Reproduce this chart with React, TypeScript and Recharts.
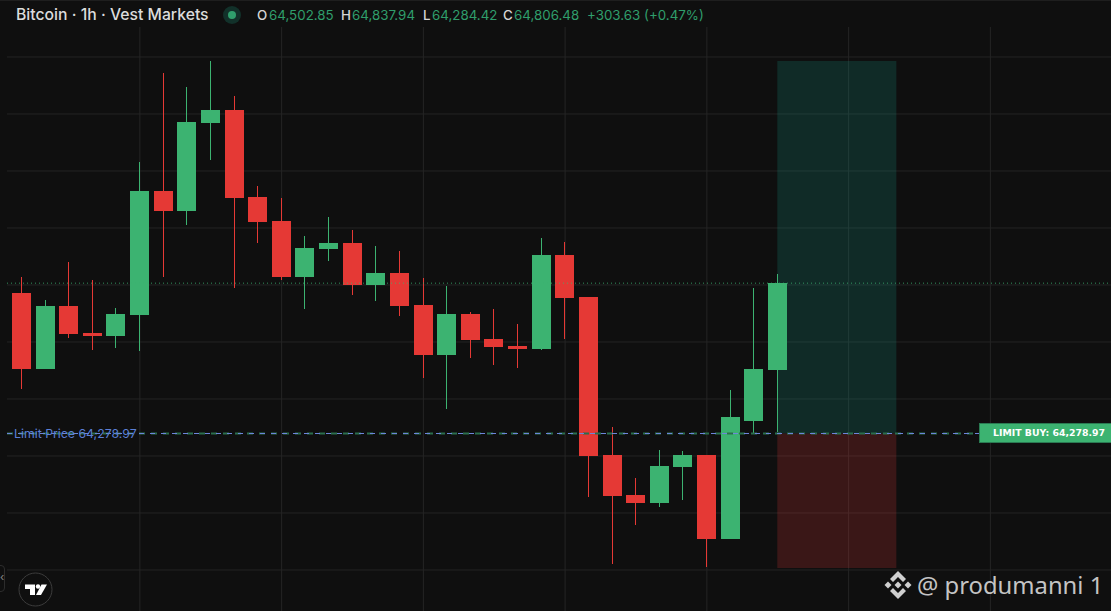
import React from 'react';
import {
	ComposedChart,
	Bar,
	XAxis,
	YAxis,
	CartesianGrid,
	ReferenceArea,
	ReferenceLine,
} from 'recharts';

/* ─── Data ────────────────────────────────────────────── */

const opens = [64772, 64505, 64726, 64632, 64621, 64695, 65130, 65060, 65368, 65414, 65109, 65025, 64828, 64926, 64947, 64800, 64842, 64730, 64554, 64698, 64611, 64586, 64575, 64905, 64758, 64203, 64063, 64035, 64161, 64203, 63909, 64323, 64502.85];
const highs = [64828, 64747, 64881, 64818, 64719, 65232, 65544, 65495, 65586, 65463, 65147, 65105, 64972, 65039, 64993, 64937, 64919, 64825, 64796, 64705, 64716, 64663, 64965, 64951, 64758, 64302, 64123, 64221, 64218, 64203, 64432, 64789, 64837.94];
const lows = [64435, 64505, 64614, 64572, 64579, 64568, 64828, 65011, 65239, 64789, 64947, 64818, 64716, 64884, 64765, 64744, 64691, 64474, 64365, 64544, 64519, 64509, 64572, 64611, 64056, 63821, 63958, 64021, 64046, 63811, 63909, 64281, 64284.42];
const closes = [64505, 64726, 64628, 64621, 64698, 65130, 65060, 65372, 65414, 65105, 65021, 64828, 64930, 64947, 64800, 64842, 64726, 64554, 64698, 64607, 64582, 64575, 64905, 64754, 64200, 64060, 64035, 64165, 64203, 63909, 64337, 64505, 64806.48];

const priceGrid = [65600, 65400, 65200, 65000, 64800, 64600, 64400, 64200, 64000, 63800];
const timeGrid = [5, 11, 17, 23, 29, 35, 41];

const lastPrice = 64806.48;
const limitPrice = 64278.97;
const takeProfit = 65586;
const stopLoss = 63807;
const toolStart = 31.98;
const toolEnd = 37.02;

const legend = [
	{ key: 'O', value: '64,502.85', keyX: 257, valueX: 269 },
	{ key: 'H', value: '64,837.94', keyX: 341, valueX: 352 },
	{ key: 'L', value: '64,284.42', keyX: 423, valueX: 432 },
	{ key: 'C', value: '64,806.48', keyX: 503, valueX: 514 },
];

const candles = opens.map((open, i) => ({
	index: i,
	open,
	close: closes[i],
	high: highs[i],
	low: lows[i],
	range: [lows[i], highs[i]],
}));

/* ─── Chart config ────────────────────────────────────── */

const WIDTH = 1111;
const HEIGHT = 611;
const BG = '#0f0f0f';
const GRID = '#242424';
const UP = '#3cb371';
const DOWN = '#e53935';
const TEXT_UP = '#2f9e6c';
const FONT = 'Inter, sans-serif';
const X_MIN = -0.624;
const X_MAX = 46.106;

/* ─── Candle shape ────────────────────────────────────── */

function Candle(props: any) {
	const { x, y, width, height, payload } = props;
	const { open, close, high, low } = payload;
	const perPrice = height / (high - low);
	const toY = (p: number) => y + (high - p) * perPrice;
	const color = close >= open ? UP : DOWN;
	const left = Math.round(x + width / 2 - 9.5);
	const top = Math.round(toY(Math.max(open, close)));
	const bottom = Math.round(toY(Math.min(open, close)));
	return (
		<g>
			<rect x={left + 9} y={Math.round(y)} width={1} height={Math.round(height)} fill={color} />
			<rect x={left} y={top} width={19} height={Math.max(bottom - top, 1)} fill={color} />
		</g>
	);
}

/* ─── Overlay bits ────────────────────────────────────── */

function Header() {
	const base: React.CSSProperties = {
		position: 'absolute',
		top: 6,
		fontFamily: FONT,
		fontSize: 13.35,
		lineHeight: '18px',
		whiteSpace: 'nowrap',
	};
	return (
		<>
			<div style={{ position: 'absolute', left: 0, top: 0, width: WIDTH, height: 1, background: '#1e1e1e' }} />
			<div style={{ ...base, left: 16, top: 5, fontSize: 15.75, lineHeight: '20px', color: '#dcdcdc', fontWeight: 500 }}>
				Bitcoin · 1h · Vest Markets
			</div>
			<svg style={{ position: 'absolute', left: 223, top: 6 }} width={18} height={18}>
				<circle cx={9} cy={9} r={9} fill="#12312a" />
				<circle cx={9} cy={9} r={4} fill={TEXT_UP} />
			</svg>
			{legend.map((l) => (
				<React.Fragment key={l.key}>
					<span style={{ ...base, left: l.keyX, color: '#d6d6d6', fontWeight: 500 }}>{l.key}</span>
					<span style={{ ...base, left: l.valueX, color: TEXT_UP }}>{l.value}</span>
				</React.Fragment>
			))}
			<span style={{ ...base, left: 587, color: TEXT_UP }}>+303.63 (+0.47%)</span>
		</>
	);
}

function LimitLabels() {
	return (
		<>
			<div
				style={{
					position: 'absolute',
					left: 14,
					top: 425,
					fontFamily: FONT,
					fontSize: 12.3,
					lineHeight: '18px',
					color: '#5b7fd6',
					whiteSpace: 'nowrap',
				}}
			>
				Limit Price 64,278.97
			</div>
			<div
				style={{
					position: 'absolute',
					left: 979,
					top: 423,
					width: 132,
					height: 20,
					boxSizing: 'border-box',
					background: UP,
					border: '1px solid #2a7a52',
					borderRight: 'none',
					color: '#fff',
					fontFamily: '"DejaVu Sans", sans-serif',
					fontWeight: 700,
					fontSize: 9.35,
					lineHeight: '18px',
					paddingLeft: 13,
					whiteSpace: 'nowrap',
				}}
			>
				LIMIT BUY: 64,278.97
			</div>
		</>
	);
}

function Watermark() {
	return (
		<>
			<svg style={{ position: 'absolute', left: 884, top: 571 }} width={28} height={28} viewBox="0 0 28 28">
				<g fill="#cfcfcf">
					<path d="M14 0 L22 8 L19 11 L14 6 L9 11 L6 8 Z" />
					<path d="M14 28 L22 20 L19 17 L14 22 L9 17 L6 20 Z" />
					<path d="M14 10.5 L17.5 14 L14 17.5 L10.5 14 Z" />
					<path d="M4 10.5 L7.5 14 L4 17.5 L0.5 14 Z" />
					<path d="M24 10.5 L27.5 14 L24 17.5 L20.5 14 Z" />
				</g>
			</svg>
			<div
				style={{
					position: 'absolute',
					left: 917,
					top: 568,
					fontFamily: '"Noto Sans", sans-serif',
					fontSize: 23.8,
					lineHeight: '34px',
					color: '#c4c4c4',
					whiteSpace: 'nowrap',
				}}
			>
				@ produmanni 1
			</div>
		</>
	);
}

function TvBadge() {
	return (
		<>
			<div
				style={{
					position: 'absolute',
					left: -6,
					top: 565,
					width: 11,
					height: 27,
					boxSizing: 'border-box',
					border: '1px solid #2c2c2c',
					borderRadius: 4,
				}}
			/>
			<div style={{ position: 'absolute', left: 0, top: 569, fontFamily: FONT, fontSize: 11, lineHeight: '16px', color: '#8a8a8a' }}>‹</div>
			<svg style={{ position: 'absolute', left: 18, top: 572 }} width={35} height={35} viewBox="0 0 35 35">
				<circle cx={17.5} cy={17.5} r={16.5} fill={BG} stroke="#3c3c3c" />
				<g fill="#fff">
					<path d="M7 12.5 H17 V23 H12 V17 H7 Z" />
					<circle cx={20} cy={14.5} r={2.2} />
					<path d="M23.5 12.5 H29 L23 23 H18 Z" />
				</g>
			</svg>
		</>
	);
}

/* ─── Main export ─────────────────────────────────────── */

export default function App() {
	return (
		<div
			style={{
				position: 'fixed',
				left: 0,
				top: 0,
				width: WIDTH,
				height: HEIGHT,
				background: BG,
				overflow: 'hidden',
			}}
		>
			<ComposedChart
				width={WIDTH}
				height={HEIGHT}
				data={candles}
				margin={{ top: 27, right: 0, bottom: 0, left: 7 }}
				barSize={19}
			>
				<XAxis
					dataKey="index"
					type="number"
					domain={[X_MIN, X_MAX]}
					allowDataOverflow
					ticks={timeGrid}
					hide
				/>
				<YAxis
					type="number"
					domain={[63656.14, 65705.26]}
					allowDataOverflow
					ticks={priceGrid}
					hide
				/>

				<CartesianGrid stroke={GRID} verticalValues={timeGrid} horizontalValues={priceGrid} />

				<ReferenceArea
					x1={toolStart}
					x2={toolEnd}
					y1={limitPrice}
					y2={takeProfit}
					fill="#149b87"
					fillOpacity={0.2}
					stroke="none"
				/>
				<ReferenceArea
					x1={toolStart}
					x2={toolEnd}
					y1={stopLoss}
					y2={limitPrice}
					fill={DOWN}
					fillOpacity={0.2}
					stroke="none"
				/>

				<ReferenceLine y={lastPrice} stroke={UP} strokeOpacity={0.8} strokeDasharray="1 3" />
				<ReferenceLine
					segment={[{ x: X_MIN, y: limitPrice }, { x: 40.58, y: limitPrice }]}
					stroke="#2a6e4c"
					strokeWidth={2}
					strokeDasharray="6 6"
				/>
				<ReferenceLine
					segment={[{ x: X_MIN, y: limitPrice }, { x: 40.58, y: limitPrice }]}
					stroke="#6f86dd"
					strokeDasharray="5 6"
				/>

				<Bar dataKey="range" shape={<Candle />} isAnimationActive={false} />
			</ComposedChart>

			<Header />
			<LimitLabels />
			<Watermark />
			<TvBadge />
		</div>
	);
}
